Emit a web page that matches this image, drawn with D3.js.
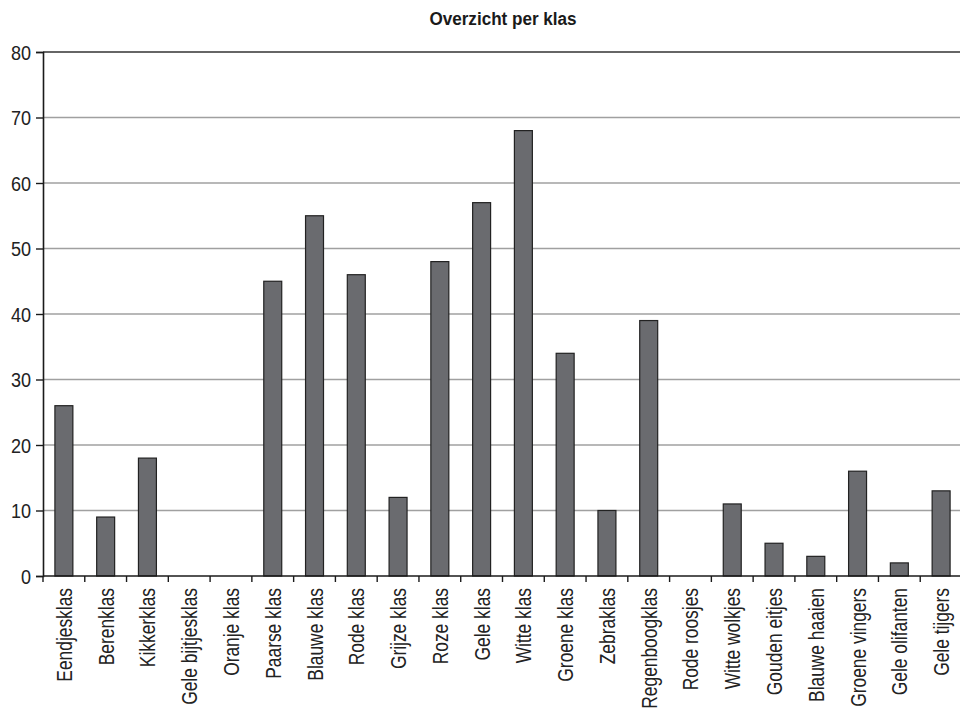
<!DOCTYPE html>
<html>
<head>
<meta charset="utf-8">
<script src="https://cdn.jsdelivr.net/npm/d3@7"></script>
<style>
  html, body { margin: 0; padding: 0; background: #fff; }
  svg { display: block; }
  text { font-family: "Liberation Sans", Arial, sans-serif; }
</style>
</head>
<body>
<svg id="chart" width="960" height="713"></svg>
<script>
// Number of pupils per class
const categories = [
  "Eendjesklas", "Berenklas", "Kikkerklas", "Gele bijtjesklas", "Oranje klas",
  "Paarse klas", "Blauwe klas", "Rode klas", "Grijze klas", "Roze klas",
  "Gele klas", "Witte klas", "Groene klas", "Zebraklas", "Regenboogklas",
  "Rode roosjes", "Witte wolkjes", "Gouden eitjes", "Blauwe haaien",
  "Groene vingers", "Gele olifanten", "Gele tijgers"
];
const values = [26, 9, 18, 0, 0, 45, 55, 46, 12, 48, 57, 68, 34, 10, 39, 0, 11, 5, 3, 16, 2, 13];
const yTicks = [0, 10, 20, 30, 40, 50, 60, 70, 80];
const title = "Overzicht per klas";

const svg = d3.select("#chart");
const plotLeft = 43, plotRight = 962, plotTop = 52, plotBottom = 576;
// horizontal squeeze that gives a condensed look to the sans font
const narrow = 0.79;

const x = d3.scaleBand()
  .domain(categories)
  .range([plotLeft, plotRight])
  .paddingInner(0.57)
  .paddingOuter(0.285);

const y = d3.scaleLinear().domain([0, 80]).range([plotBottom, plotTop]);

// title
svg.append("text")
  .attr("transform", `translate(503,25) scale(0.9,1)`)
  .attr("text-anchor", "middle")
  .attr("font-size", 19).attr("font-weight", "bold")
  .attr("fill", "#1a1a1a")
  .text(title);

// horizontal gridlines
svg.append("g").selectAll("line")
  .data(yTicks.filter(d => d > 0))
  .join("line")
  .attr("x1", plotLeft).attr("x2", 960)
  .attr("y1", d => y(d)).attr("y2", d => y(d))
  .attr("stroke", d => d === 80 ? "#333" : "#a0a0a0")
  .attr("stroke-width", d => d === 80 ? 1.6 : 1.4);

// y axis: line and ticks from d3.axisLeft, labels drawn condensed
const yAxis = d3.axisLeft(y).tickValues(yTicks).tickSize(7).tickFormat("");
const gy = svg.append("g").attr("transform", `translate(${plotLeft},0)`).call(yAxis);
gy.select(".domain").attr("stroke", "#1a1a1a").attr("stroke-width", 1.6);
gy.selectAll(".tick line").attr("stroke", "#1a1a1a").attr("stroke-width", 1.4);
svg.append("g").selectAll("text")
  .data(yTicks)
  .join("text")
  .attr("transform", d => `translate(31,${y(d)}) scale(0.86,1)`)
  .attr("dy", "0.36em")
  .attr("text-anchor", "end")
  .attr("font-size", 21)
  .attr("fill", "#222")
  .text(d => d);

// bars
svg.append("g").selectAll("rect")
  .data(categories.map((c, i) => ({ c, v: values[i] })).filter(d => d.v > 0))
  .join("rect")
  .attr("x", d => x(d.c))
  .attr("y", d => y(d.v))
  .attr("width", x.bandwidth())
  .attr("height", d => y(0) - y(d.v))
  .attr("fill", "#6a6b6f")
  .attr("stroke", "#222")
  .attr("stroke-width", 1.2);

// x axis baseline and category dividers
const gx = svg.append("g");
gx.append("line")
  .attr("x1", plotLeft).attr("x2", 960)
  .attr("y1", plotBottom).attr("y2", plotBottom)
  .attr("stroke", "#1a1a1a").attr("stroke-width", 1.6);
gx.selectAll("line.tick")
  .data(d3.range(categories.length + 1))
  .join("line")
  .attr("class", "tick")
  .attr("x1", i => plotLeft + i * x.step()).attr("x2", i => plotLeft + i * x.step())
  .attr("y1", plotBottom).attr("y2", plotBottom + 6)
  .attr("stroke", "#1a1a1a").attr("stroke-width", 1.4);

// rotated category labels
gx.selectAll("text")
  .data(categories)
  .join("text")
  .attr("transform", d => `translate(${x(d) + x.bandwidth() / 2 + 8},${plotBottom + 12}) rotate(-90) scale(${narrow},1)`)
  .attr("text-anchor", "end")
  .attr("font-size", 22)
  .attr("fill", "#222")
  .text(d => d);
</script>
</body>
</html>
